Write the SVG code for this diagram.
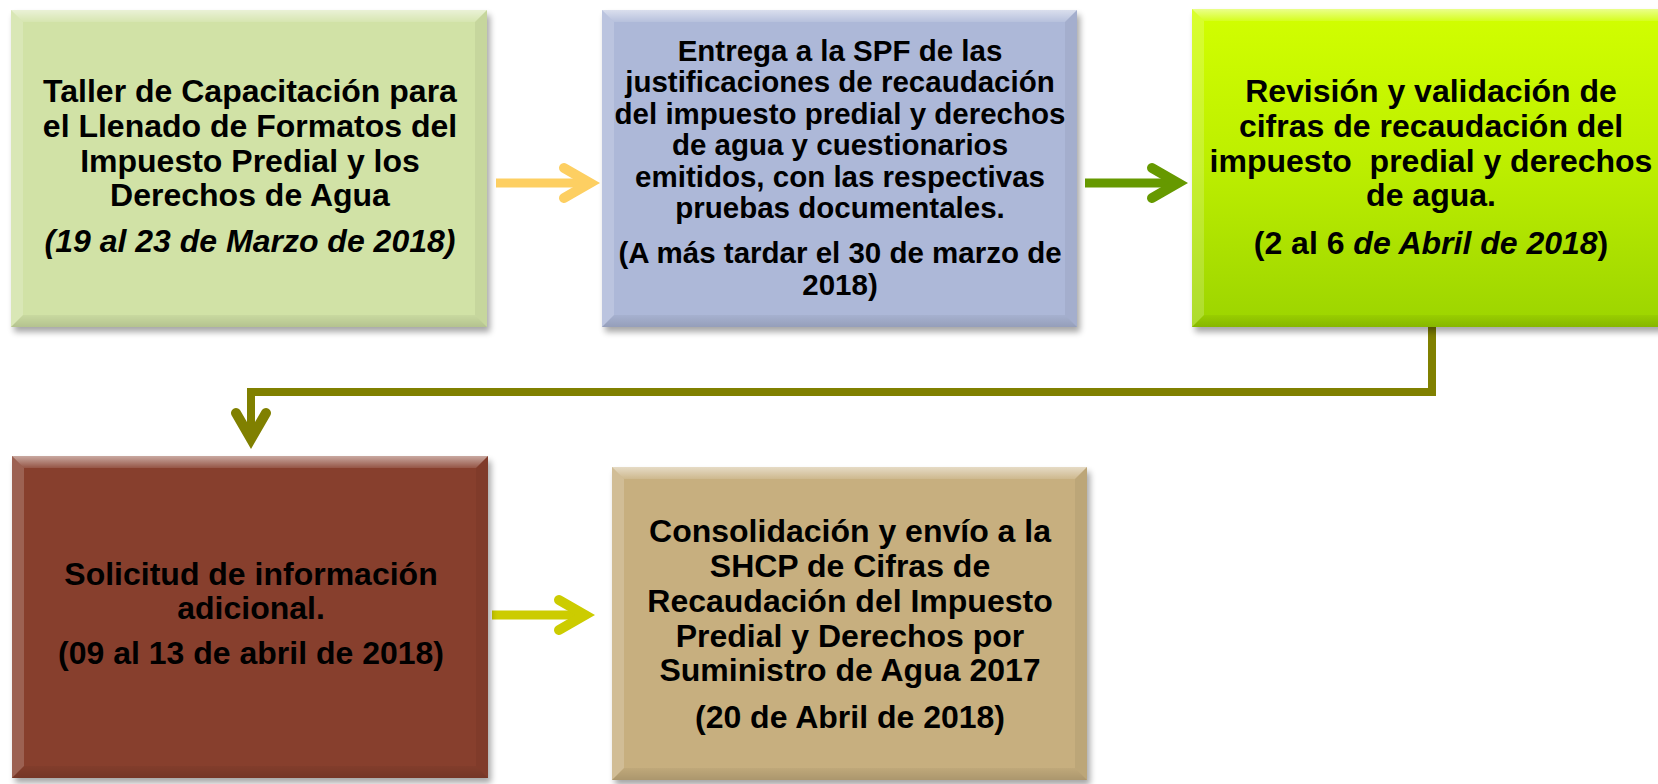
<svg xmlns="http://www.w3.org/2000/svg" width="1658" height="784" viewBox="0 0 1658 784">
<defs>
<filter id="sh" x="-5%" y="-5%" width="110%" height="115%"><feGaussianBlur stdDeviation="3"/></filter>
<linearGradient id="g3" x1="0" y1="0" x2="0" y2="1"><stop offset="0" stop-color="#D2FF00"/><stop offset="0.5" stop-color="#BCEE00"/><stop offset="1" stop-color="#9CD400"/></linearGradient>
<linearGradient id="hiTop" x1="0" y1="0" x2="0" y2="1"><stop offset="0" stop-color="#fff" stop-opacity="0.55"/><stop offset="1" stop-color="#fff" stop-opacity="0.12"/></linearGradient>
<linearGradient id="loBot" x1="0" y1="0" x2="0" y2="1"><stop offset="0" stop-color="#000" stop-opacity="0.04"/><stop offset="1" stop-color="#000" stop-opacity="0.14"/></linearGradient>
</defs>
<style>
text{font-family:"Liberation Sans",Arial,sans-serif;font-weight:bold;font-size:32px;fill:#000;text-anchor:middle}
.sm{font-size:29.5px}
.it{font-style:italic}
.sh{fill:#000;opacity:0.35;filter:url(#sh)}
.bt{fill:url(#hiTop)}
.bl{fill:#fff;opacity:0.18}
.br{fill:#000;opacity:0.05}
.bb{fill:url(#loBot)}
.ln{fill:none;stroke-width:9;stroke-linecap:butt}
.hd{fill:none;stroke-width:10;stroke-linecap:round;stroke-linejoin:miter;stroke-miterlimit:4}
</style>
<rect width="1658" height="784" fill="#fff"/>

<g id="connectors">
<line class="ln" x1="496" y1="183" x2="588" y2="183" stroke="#FDCF62"/>
<polyline class="hd" points="564,168 590,183 564,198" stroke="#FDCF62"/>
<line class="ln" x1="1085" y1="183" x2="1176" y2="183" stroke="#669900"/>
<polyline class="hd" points="1152,168 1178,183 1152,198" stroke="#669900"/>
<path d="M1432,327 V392 H251 V437" fill="none" stroke="#808000" stroke-width="8"/>
<polyline class="hd" points="236,413 251,439 266,413" stroke="#808000"/>
<line class="ln" x1="492" y1="615" x2="583" y2="615" stroke="#CCCC00"/>
<polyline class="hd" points="559,600 585,615 559,630" stroke="#CCCC00"/>
</g>

<g id="node1">
<rect class="sh" x="14" y="15" width="476" height="317"/>
<rect x="11" y="10" width="476" height="317" fill="#D1E2A6"/>
<polygon class="bt" points="11,10 487,10 475,22 23,22"/>
<polygon class="bl" points="11,10 23,22 23,315 11,327"/>
<polygon class="br" points="487,10 487,327 475,315 475,22"/>
<polygon class="bb" points="11,327 487,327 475,315 23,315"/>
<text x="250" y="102">Taller de Capacitación para</text>
<text x="250" y="137">el Llenado de Formatos del</text>
<text x="250" y="172">Impuesto Predial y los</text>
<text x="250" y="206">Derechos de Agua</text>
<text class="it" x="250" y="252">(19 al 23 de Marzo de 2018)</text>
</g>

<g id="node2">
<rect class="sh" x="605" y="15" width="475" height="317"/>
<rect x="602" y="10" width="475" height="317" fill="#ADB8D8"/>
<polygon class="bt" points="602,10 1077,10 1065,22 614,22"/>
<polygon class="bl" points="602,10 614,22 614,315 602,327"/>
<polygon class="br" points="1077,10 1077,327 1065,315 1065,22"/>
<polygon class="bb" points="602,327 1077,327 1065,315 614,315"/>
<text class="sm" x="840" y="61">Entrega a la SPF de las</text>
<text class="sm" x="840" y="92">justificaciones de recaudación</text>
<text class="sm" x="840" y="124">del impuesto predial y derechos</text>
<text class="sm" x="840" y="155">de agua y cuestionarios</text>
<text class="sm" x="840" y="187">emitidos, con las respectivas</text>
<text class="sm" x="840" y="218">pruebas documentales.</text>
<text class="sm" x="840" y="263">(A más tardar el 30 de marzo de</text>
<text class="sm" x="840" y="295">2018)</text>
</g>

<g id="node3">
<rect class="sh" x="1195" y="14" width="480" height="318"/>
<rect x="1192" y="9" width="480" height="318" fill="url(#g3)"/>
<polygon class="bt" points="1192,9 1672,9 1660,21 1204,21"/>
<polygon class="bl" points="1192,9 1204,21 1204,315 1192,327"/>
<polygon class="bb" points="1192,327 1672,327 1660,315 1204,315"/>
<text x="1431" y="102">Revisión y validación de</text>
<text x="1431" y="137">cifras de recaudación del</text>
<text x="1431" y="172" xml:space="preserve">impuesto  predial y derechos</text>
<text x="1431" y="206">de agua.</text>
<text x="1431" y="254">(2 al 6 <tspan class="it">de Abril de 2018</tspan>)</text>
</g>

<g id="node4">
<rect class="sh" x="15" y="461" width="476" height="322"/>
<rect x="12" y="456" width="476" height="322" fill="#873F2D"/>
<polygon class="bt" points="12,456 488,456 476,468 24,468"/>
<polygon class="bl" points="12,456 24,468 24,766 12,778"/>
<polygon class="br" points="488,456 488,778 476,766 476,468"/>
<polygon class="bb" points="12,778 488,778 476,766 24,766"/>
<text x="251" y="585">Solicitud de información</text>
<text x="251" y="619">adicional.</text>
<text x="251" y="664">(09 al 13 de abril de 2018)</text>
</g>

<g id="node5">
<rect class="sh" x="615" y="472" width="475" height="313"/>
<rect x="612" y="467" width="475" height="313" fill="#C7AF7F"/>
<polygon class="bt" points="612,467 1087,467 1075,479 624,479"/>
<polygon class="bl" points="612,467 624,479 624,768 612,780"/>
<polygon class="br" points="1087,467 1087,780 1075,768 1075,479"/>
<polygon class="bb" points="612,780 1087,780 1075,768 624,768"/>
<text x="850" y="542">Consolidación y envío a la</text>
<text x="850" y="577">SHCP de Cifras de</text>
<text x="850" y="612">Recaudación del Impuesto</text>
<text x="850" y="647">Predial y Derechos por</text>
<text x="850" y="681">Suministro de Agua 2017</text>
<text x="850" y="728">(20 de Abril de 2018)</text>
</g>
</svg>
